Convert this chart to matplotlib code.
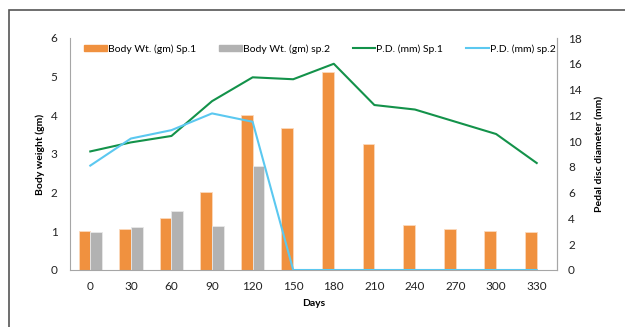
import matplotlib
matplotlib.use("Agg")
import matplotlib.pyplot as plt
import numpy as np
from matplotlib.patches import Rectangle
from matplotlib.lines import Line2D

plt.rcParams['font.family'] = ['Lato', 'DejaVu Sans']

days = ["0", "30", "60", "90", "120", "150", "180", "210", "240", "270", "300", "330"]
bw_sp1 = [1.02, 1.05, 1.35, 2.03, 4.0, 3.67, 5.13, 3.25, 1.16, 1.05, 1.0, 0.97]
bw_sp2 = [0.98, 1.10, 1.52, 1.13, 2.68, 0, 0, 0, 0, 0, 0, 0]
pd_sp1 = [9.2, 9.9, 10.4, 13.1, 14.95, 14.8, 16.0, 12.8, 12.45, 11.5, 10.55, 8.3]
pd_sp2 = [8.1, 10.2, 10.85, 12.15, 11.5, 0, 0, 0, 0, 0, 0, 0]

c_or = "#F0913F"
c_gr = "#B2B2B2"
c_gn = "#13924A"
c_bl = "#5BC8F0"

fig = plt.figure(figsize=(6.25, 3.27), dpi=100)
fig.patches.append(Rectangle((9/625, -0.1), 1.2, 1 - 10/327 + 0.1, transform=fig.transFigure,
                             fill=False, edgecolor="#555555", linewidth=1.2))
ax = fig.add_axes([70/625, 1 - 270/327, 487/625, 232/327])
x = np.arange(len(days))
w = 0.29
ax.bar(x - w/2, bw_sp1, w, color=c_or, edgecolor="#FBD9BD", linewidth=0.6, zorder=2)
ax.bar(x + w/2, bw_sp2, w, color=c_gr, edgecolor="#E8E8E8", linewidth=0.6, zorder=2)
ax.set_ylim(0, 6)
ax.set_xlim(-0.5, len(days) - 0.5)
ax.set_xticks(x)
ax.set_xticklabels(days)
ax.set_yticks(range(0, 7))
ax.tick_params(length=0, labelsize=8.5, colors="#222222", pad=8)
ax.tick_params(axis='y', pad=9)
ax.spines["top"].set_visible(False)
for s in ["left", "right", "bottom"]:
    ax.spines[s].set_color("#A6A6A6")
ax.set_ylabel("Body weight (gm)", fontsize=7.5, fontweight="bold", labelpad=4)
ax.set_xlabel("Days", fontsize=7.5, fontweight="bold", labelpad=5)

ax2 = ax.twinx()
ax2.plot(x, pd_sp1, color=c_gn, linewidth=1.5, zorder=3)
ax2.plot(x, pd_sp2, color=c_bl, linewidth=1.5, zorder=3)
ax2.set_ylim(0, 18)
ax2.set_yticks(range(0, 19, 2))
ax2.tick_params(length=0, labelsize=8.5, colors="#222222", pad=8)
for s in ["top", "left", "bottom"]:
    ax2.spines[s].set_visible(False)
ax2.spines["right"].set_color("#A6A6A6")
ax2.set_ylabel("Pedal disc diameter (mm)", fontsize=7.5, fontweight="bold", labelpad=10)

handles = [Rectangle((0, 0), 1, 1, color=c_or), Rectangle((0, 0), 1, 1, color=c_gr),
           Line2D([], [], color=c_gn, linewidth=1.5), Line2D([], [], color=c_bl, linewidth=1.5)]
labels = ["Body Wt. (gm) Sp.1", "Body Wt. (gm) sp.2", "P.D. (mm) Sp.1", "P.D. (mm) sp.2"]
ax2.legend(handles, labels, loc="upper center", bbox_to_anchor=(0.513, 1.0), ncol=4, frameon=False,
           fontsize=7.5, handlelength=2.2, handleheight=0.6, handletextpad=0.1, columnspacing=2.2,
           borderaxespad=0.2)

fig.savefig("out.png", dpi=100)
